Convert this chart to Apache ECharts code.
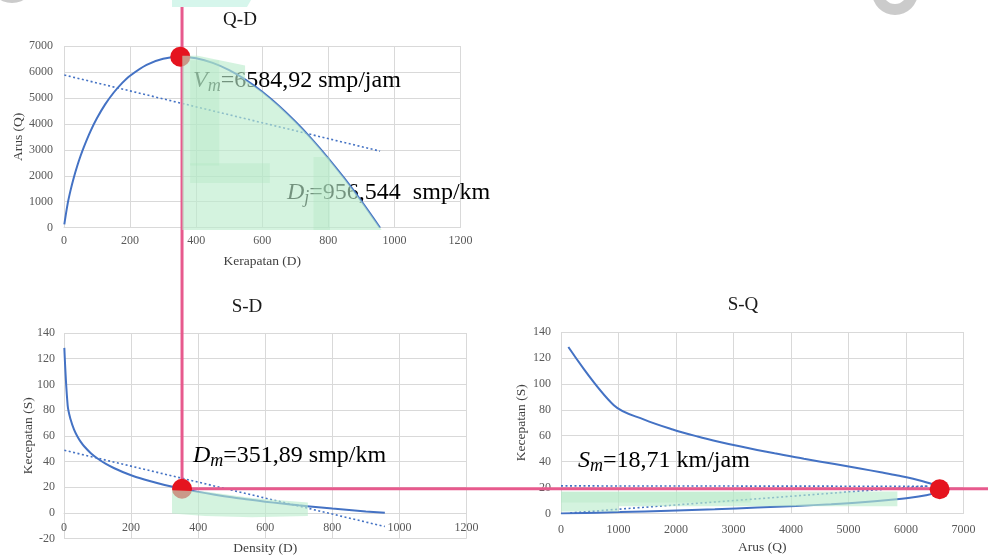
<!DOCTYPE html>
<html>
<head>
<meta charset="utf-8">
<script src="https://cdn.jsdelivr.net/npm/echarts@6/dist/echarts.min.js"></script>
<style>
  html, body { margin: 0; padding: 0; background: #ffffff; }
  #c { width: 988px; height: 556px; }
</style>
</head>
<body>
<div id="c"></div>
<script>
// Greenberg model readings: density D (smp/km), speed S (km/jam), flow Q (smp/jam)
const density = [1, 11, 20, 30, 40, 50, 60, 80, 100, 125, 150, 175, 200, 250, 300, 351.89, 400, 450, 500, 550, 600, 650, 700, 750, 800, 850, 900, 956.544];
const speed   = [128.4, 83.5, 72.4, 64.8, 59.4, 55.2, 51.8, 46.4, 42.3, 38.1, 34.7, 31.8, 29.3, 25.1, 21.7, 18.71, 16.3, 14.1, 12.1, 10.4, 8.7, 7.2, 5.8, 4.6, 3.3, 2.2, 1.1, 0];
const flow    = [128, 919, 1447, 1943, 2376, 2761, 3108, 3714, 4225, 4759, 5199, 5561, 5856, 6276, 6508, 6584.92, 6525, 6349, 6069, 5697, 5236, 4699, 4089, 3415, 2675, 1879, 1026, 0];

// Linear trend lines (endpoints)
const trendQD  = [[1, 5880], [956.5, 2950]];
const trendSD  = [[1, 48.7], [956.5, -10.7]];
const trendSQa = [[0, 21.3], [6400, 21.0]];
const trendSQb = [[160, 0.5], [6400, 21.3]];

// Critical values
const Dm = 351.89, Vm = 6584.92, Sm = 18.71, Dj = 956.544;

// Highlighter strokes, in data units of each panel
const markQD = [[358, 6620], [405, 6620], [548, 6250], [548, 5700]]
  .concat(density.map((d, i) => [d, flow[i]]).filter(p => p[0] >= 600))
  .concat([[Dj + 5, -90], [358, -90]]);
const markQDStrokes = [
  [[382, 6450], [470, 6450], [470, 2400], [382, 2400]],
  [[382, 2480], [623, 2480], [623, 1720], [382, 1720]],
  [[755, 2720], [805, 2720], [805, -90], [755, -90]]
];
const markSD = [[322, 17.5], [420, 16.5], [560, 11.5], [727, 8], [727, -2.5], [560, -3.5], [420, -2.5], [322, -0.5]];
const markSQ = [[0, 17], [5850, 17], [5850, 5.5], [1000, 5.5], [1000, 1.5], [0, 1.5]];
const markSQStroke = [[0, 16.5], [3300, 16.5], [3300, 8.5], [0, 8.5]];

const serif = 'Liberation Serif';
const gridColor = '#d9d9d9';
const blue = '#4472c4';
const pink = '#e75a8d';
const red = '#e5141f';
const hl = 'rgba(186, 236, 203, 0.62)';
const hlDark = 'rgba(170, 228, 190, 0.3)';

const pairs = (xs, ys) => xs.map((x, i) => [x, ys[i]]);

function valueAxis(o) {
  return {
    type: 'value',
    gridIndex: o.grid,
    min: o.min, max: o.max, interval: o.interval,
    offset: o.offset || 0,
    name: o.name,
    nameLocation: 'middle',
    nameGap: o.nameGap,
    nameRotate: o.nameRotate,
    nameMoveOverlap: false,
    nameTextStyle: { color: '#404040', fontFamily: serif, fontSize: 13.5 },
    axisTick: { show: false },
    axisLine: { show: !!o.line, onZero: false, lineStyle: { color: gridColor, width: 1 } },
    axisLabel: {
      color: '#595959', fontFamily: serif, fontSize: 12, margin: o.margin, hideOverlap: false,
      formatter: v => String(v)
    },
    splitLine: { show: true, lineStyle: { color: gridColor, width: 1 } }
  };
}

function curve(idx, data) {
  return {
    type: 'line', xAxisIndex: idx, yAxisIndex: idx, data,
    smooth: 0.35, showSymbol: false, silent: true, z: 2,
    lineStyle: { color: blue, width: 2 }
  };
}
function trend(idx, data) {
  return {
    type: 'line', xAxisIndex: idx, yAxisIndex: idx, data,
    showSymbol: false, silent: true, z: 2,
    lineStyle: { color: blue, width: 1.6, type: [2, 2.5] }
  };
}
function dot(idx, point) {
  return {
    type: 'scatter', xAxisIndex: idx, yAxisIndex: idx, data: [point],
    symbolSize: 20, silent: true, z: 5,
    itemStyle: { color: red, opacity: 1 }
  };
}
function poly(idx, pts, fill, z) {
  return {
    type: 'custom', xAxisIndex: idx, yAxisIndex: idx, silent: true, z, clip: false,
    data: [pts[0]],
    renderItem: (params, api) => ({
      type: 'polygon',
      shape: { points: pts.map(p => api.coord(p)) },
      style: { fill }
    })
  };
}

const chart = echarts.init(document.getElementById('c'));

chart.setOption({
  animation: false,
  backgroundColor: '#ffffff',
  grid: [
    { left: 64, top: 46, width: 396.5, height: 181.7, outerBoundsMode: 'none' },
    { left: 64, top: 333, width: 402.5, height: 205.5, outerBoundsMode: 'none' },
    { left: 561, top: 332, width: 402.5, height: 181.5, outerBoundsMode: 'none' }
  ],
  xAxis: [
    valueAxis({ grid: 0, min: 0, max: 1200, interval: 200, name: 'Kerapatan (D)', nameGap: 27, margin: 7, line: true }),
    // density axis sits on the zero speed line
    valueAxis({ grid: 1, min: 0, max: 1200, interval: 200, name: 'Density (D)', nameGap: 29, margin: 9, line: true, offset: -25.7 }),
    valueAxis({ grid: 2, min: 0, max: 7000, interval: 1000, name: 'Arus (Q)', nameGap: 27, margin: 10, line: true })
  ],
  yAxis: [
    valueAxis({ grid: 0, min: 0, max: 7000, interval: 1000, name: 'Arus (Q)', nameGap: 39, margin: 11, nameRotate: 90 }),
    valueAxis({ grid: 1, min: -20, max: 140, interval: 20, name: 'Kecepatan (S)', nameGap: 29, margin: 9, nameRotate: 90 }),
    valueAxis({ grid: 2, min: 0, max: 140, interval: 20, name: 'Kecepatan (S)', nameGap: 33, margin: 10, nameRotate: 90 })
  ],
  series: [
    curve(0, pairs(density, flow)),
    trend(0, trendQD),
    curve(1, pairs(density, speed)),
    trend(1, trendSD),
    curve(2, pairs(flow, speed)),
    trend(2, trendSQa),
    trend(2, trendSQb),
    dot(0, [Dm, Vm]),
    dot(1, [Dm, Sm]),
    dot(2, [Vm, Sm]),
    poly(0, markQD, hl, 10),
    ...markQDStrokes.map(p => poly(0, p, hlDark, 11)),
    poly(1, markSD, hl, 10),
    poly(2, markSQ, hl, 10),
    poly(2, markSQStroke, hlDark, 11)
  ]
});

// Annotation text with italic symbol and subscript
function note(x, y, sym, sub, rest) {
  const base = { fontFamily: serif, fontSize: 24, lineHeight: 28, fill: '#000', color: '#000' };
  return {
    type: 'text', x, y, z: 1, silent: true,
    style: {
      text: '{i|' + sym + '}{s|' + sub + '}{n|' + rest + '}',
      align: 'left', verticalAlign: 'middle',
      rich: {
        i: Object.assign({}, base, { fontStyle: 'italic' }),
        s: Object.assign({}, base, { fontStyle: 'italic', fontSize: 18, lineHeight: 25, verticalAlign: 'bottom' }),
        n: base
      }
    }
  };
}
function heading(x, y, text) {
  return {
    type: 'text', x, y, z: 1, silent: true,
    style: { text, fontFamily: serif, fontSize: 19, fill: '#1a1a1a', align: 'center', verticalAlign: 'middle' }
  };
}

// Guide lines through the capacity point, placed with the panel scales
const pSD = chart.convertToPixel({ gridIndex: 1 }, [Dm, Sm]);
const W = chart.getWidth();

chart.setOption({
  graphic: {
    elements: [
      heading(240, 20, 'Q-D'),
      heading(247, 307, 'S-D'),
      heading(743, 305, 'S-Q'),
      note(193, 81, 'V', 'm', '=6584,92 smp/jam'),
      note(287, 193, 'D', 'j', '=956,544  smp/km'),
      note(193, 456, 'D', 'm', '=351,89 smp/km'),
      note(578, 461, 'S', 'm', '=18,71 km/jam'),
      {
        type: 'line', z: 4, silent: true,
        shape: { x1: pSD[0], y1: 0, x2: pSD[0], y2: pSD[1] },
        style: { stroke: pink, lineWidth: 3 }
      },
      {
        type: 'line', z: 4, silent: true,
        shape: { x1: pSD[0], y1: pSD[1], x2: W, y2: pSD[1] },
        style: { stroke: pink, lineWidth: 3 }
      },
      {
        type: 'polygon', z: 20, silent: true,
        shape: { points: [[172, 0], [251, 0], [247, 7], [172, 7]] },
        style: { fill: '#d6f6ec' }
      },
      {
        type: 'ring', z: 20, silent: true,
        shape: { cx: 895, cy: -8, r: 23, r0: 12 },
        style: { fill: '#cbcbcb' }
      },
      {
        type: 'ring', z: 20, silent: true,
        shape: { cx: 12, cy: -21, r: 24, r0: 17 },
        style: { fill: '#cbcbcb' }
      }
    ]
  }
});
</script>
</body>
</html>
